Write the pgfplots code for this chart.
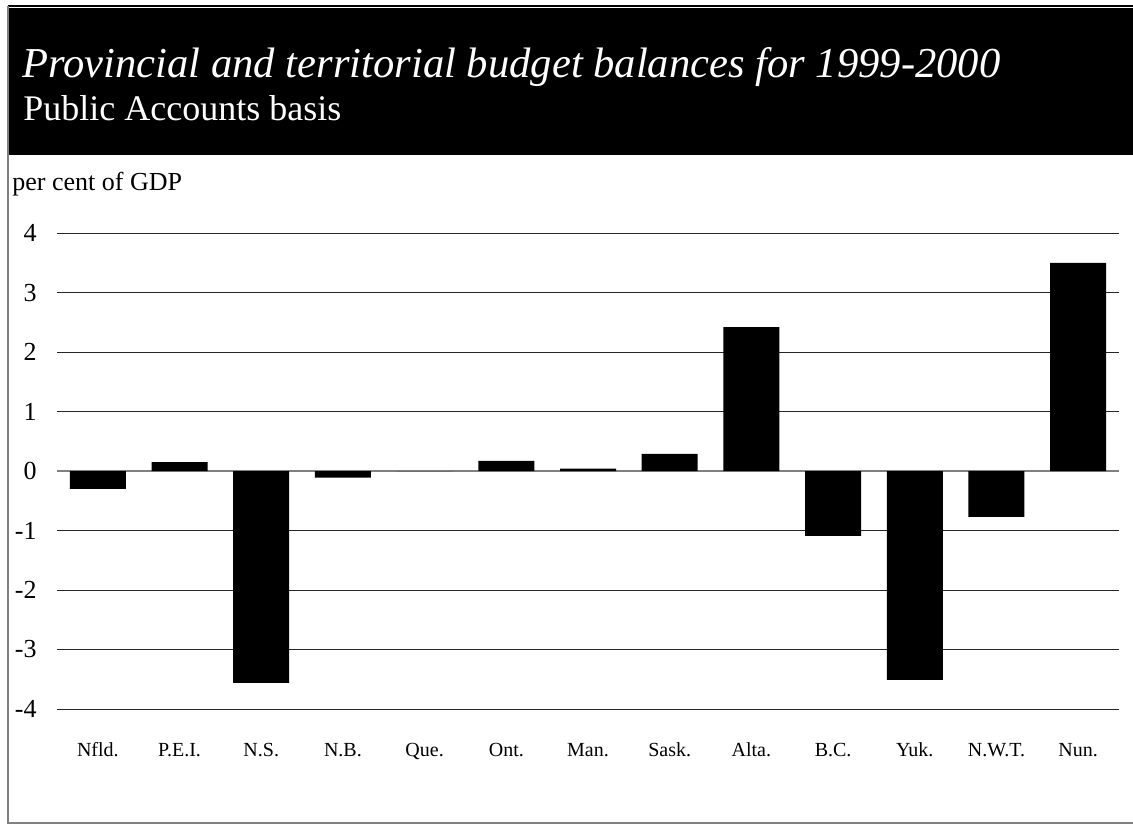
\documentclass[border=0pt]{standalone}
\usepackage{fontspec}
\setmainfont{Liberation Serif}[ItalicFont={Liberation Serif Italic},BoldFont={Liberation Serif Bold}]
\usepackage{pgfplots}
\pgfplotsset{compat=1.18}
\begin{document}
\begin{tikzpicture}
\begin{scope}[x=0.5pt,y=-0.5pt]
\path[use as bounding box] (0,0) rectangle (1133,825);
\fill[black] (8,8) rectangle (1133,155);
\draw[black, line width=0.6pt] (8,6) -- (1133,6);
\draw[gray, line width=0.6pt] (8,6) -- (8,823) -- (1133,823);
\node[anchor=base west, inner sep=0pt, text=white, font=\fontsize{21.3}{24}\selectfont\itshape] at (22,77) {Provincial and territorial budget balances for 1999-2000};
\node[anchor=base west, inner sep=0pt, text=white, font=\fontsize{18}{21}\selectfont] at (23,120) {Public Accounts basis};
\node[anchor=base west, inner sep=0pt, font=\fontsize{13}{15}\selectfont] at (12,190) {per cent of GDP};
\end{scope}
\begin{axis}[
  at={(28.5pt,-354.5pt)}, anchor=south west,
  width=531pt, height=238pt, scale only axis,
  xmin=-0.5, xmax=12.5, ymin=-4, ymax=4,
  axis line style={draw=none},
  tick style={draw=none},
  ytick={-4,-3,-2,-1,1,2,3,4},
  extra y ticks={0},
  extra y tick style={grid style={gray, line width=0.6pt}},
  ymajorgrids,
  grid style={black!85, line width=0.5pt},
  xtick={0,...,12},
  xticklabels={Nfld.,P.E.I.,N.S.,N.B.,Que.,Ont.,Man.,Sask.,Alta.,B.C.,Yuk.,N.W.T.,Nun.},
  /pgf/number format/assume math mode=true,
  yticklabel style={font=\fontsize{13}{15}\selectfont, anchor=east, inner sep=0pt, xshift=-10pt},
  xticklabel style={font=\fontsize{10}{12}\selectfont, anchor=base, inner sep=0pt, yshift=-19.5pt},
  ybar, bar width=28pt,
]
\addplot[fill=black, draw=none, bar shift=0pt] coordinates {
(0,-0.30) (1,0.15) (2,-3.56) (3,-0.11) (4,0.0) (5,0.17) (6,0.04)
(7,0.29) (8,2.42) (9,-1.09) (10,-3.51) (11,-0.77) (12,3.50)};
\end{axis}
\end{tikzpicture}
\end{document}
